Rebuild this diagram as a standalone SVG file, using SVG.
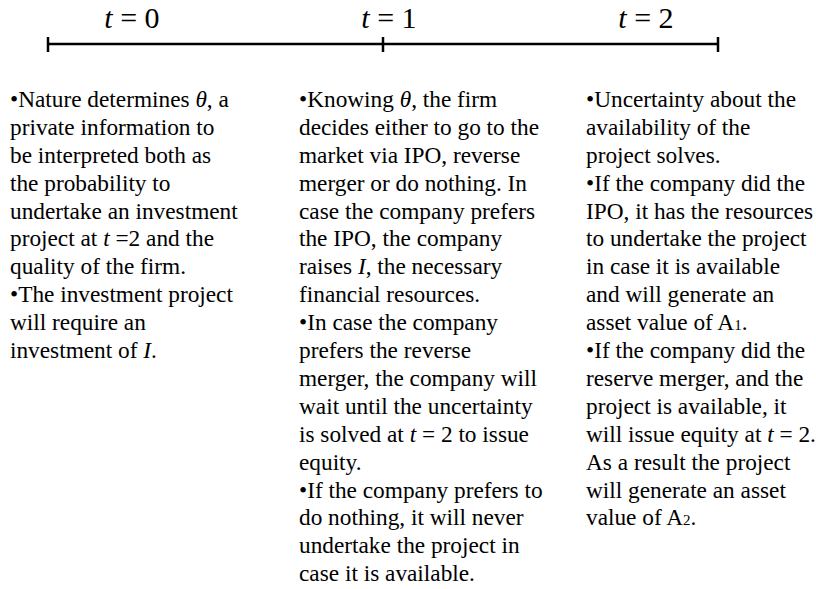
<svg xmlns="http://www.w3.org/2000/svg" width="816" height="589" viewBox="0 0 816 589">
<style>
.t{font-family:"Liberation Serif","Times New Roman",serif;font-size:23.3px;fill:#000}
.h{font-family:"Liberation Serif","Times New Roman",serif;font-size:30px;fill:#000}
.i{font-style:italic}
.s{font-size:15px}
</style>
<rect width="816" height="589" fill="#fff"/>
<g id="timeline" stroke="#000" stroke-width="2.5" fill="none">
<line x1="48" y1="44" x2="718" y2="44"/>
<line x1="48" y1="37" x2="48" y2="52"/>
<line x1="383" y1="37" x2="383" y2="52"/>
<line x1="718" y1="37" x2="718" y2="52"/>
</g>
<g id="labels">
<text class="h" x="132" y="28" text-anchor="middle"><tspan class="i">t</tspan> = 0</text>
<text class="h" x="389" y="28" text-anchor="middle"><tspan class="i">t</tspan> = 1</text>
<text class="h" x="646" y="28" text-anchor="middle"><tspan class="i">t</tspan> = 2</text>
</g>
<g id="col0">
<text class="t" x="10" y="107">•Nature determines <tspan class="i">θ</tspan>, a</text>
<text class="t" x="10" y="135">private information to</text>
<text class="t" x="10" y="163">be interpreted both as</text>
<text class="t" x="10" y="191">the probability to</text>
<text class="t" x="10" y="219">undertake an investment</text>
<text class="t" x="10" y="246">project at <tspan class="i">t</tspan> =2 and the</text>
<text class="t" x="10" y="274">quality of the firm.</text>
<text class="t" x="10" y="302">•The investment project</text>
<text class="t" x="10" y="330">will require an</text>
<text class="t" x="10" y="358">investment of <tspan class="i">I</tspan>.</text>
</g>
<g id="col1">
<text class="t" x="299" y="107">•Knowing <tspan class="i">θ</tspan>, the firm</text>
<text class="t" x="299" y="135">decides either to go to the</text>
<text class="t" x="299" y="163">market via IPO, reverse</text>
<text class="t" x="299" y="191">merger or do nothing. In</text>
<text class="t" x="299" y="219">case the company prefers</text>
<text class="t" x="299" y="246">the IPO, the company</text>
<text class="t" x="299" y="274">raises <tspan class="i">I</tspan>, the necessary</text>
<text class="t" x="299" y="302">financial resources.</text>
<text class="t" x="299" y="330">•In case the company</text>
<text class="t" x="299" y="358">prefers the reverse</text>
<text class="t" x="299" y="386">merger, the company will</text>
<text class="t" x="299" y="414">wait until the uncertainty</text>
<text class="t" x="299" y="442">is solved at <tspan class="i">t</tspan> = 2 to issue</text>
<text class="t" x="299" y="470">equity.</text>
<text class="t" x="299" y="498">•If the company prefers to</text>
<text class="t" x="299" y="525">do nothing, it will never</text>
<text class="t" x="299" y="553">undertake the project in</text>
<text class="t" x="299" y="581">case it is available.</text>
</g>
<g id="col2">
<text class="t" x="586" y="107">•Uncertainty about the</text>
<text class="t" x="586" y="135">availability of the</text>
<text class="t" x="586" y="163">project solves.</text>
<text class="t" x="586" y="191">•If the company did the</text>
<text class="t" x="586" y="219">IPO, it has the resources</text>
<text class="t" x="586" y="246">to undertake the project</text>
<text class="t" x="586" y="274">in case it is available</text>
<text class="t" x="586" y="302">and will generate an</text>
<text class="t" x="586" y="330">asset value of A<tspan class="s">1</tspan>.</text>
<text class="t" x="586" y="358">•If the company did the</text>
<text class="t" x="586" y="386">reserve merger, and the</text>
<text class="t" x="586" y="414">project is available, it</text>
<text class="t" x="586" y="442">will issue equity at <tspan class="i">t</tspan> = 2.</text>
<text class="t" x="586" y="470">As a result the project</text>
<text class="t" x="586" y="498">will generate an asset</text>
<text class="t" x="586" y="525">value of A<tspan class="s">2</tspan>.</text>
</g>
</svg>
